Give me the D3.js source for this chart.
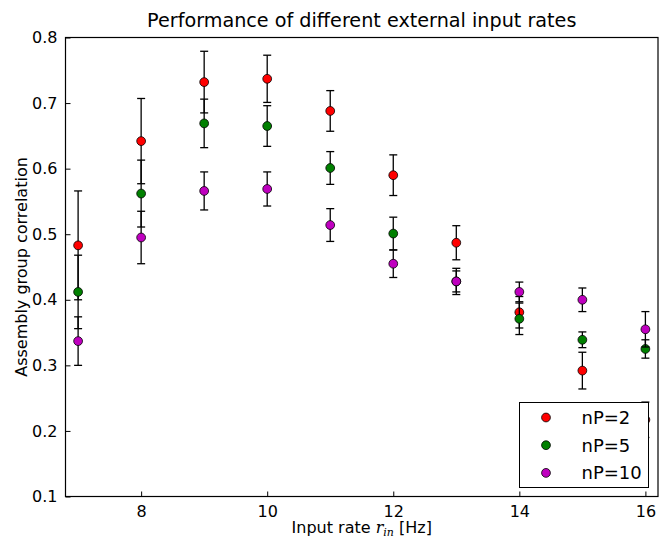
<!DOCTYPE html>
<html>
<head>
<meta charset="utf-8">
<script src="https://cdn.jsdelivr.net/npm/d3@7/dist/d3.min.js"></script>
<style>
  body { margin: 0; background: #fff; }
  svg { display: block; font-family: "DejaVu Sans", sans-serif; }
</style>
</head>
<body>
<main></main>
<script>
const rates = [7, 8, 9, 10, 11, 12, 13, 14, 15, 16];
const nP2 = [0.483, 0.642, 0.732, 0.737, 0.688, 0.590, 0.487, 0.381, 0.292, 0.217];
const nP2Err = [0.083, 0.065, 0.047, 0.036, 0.031, 0.031, 0.026, 0.024, 0.028, 0.027];
const nP5 = [0.412, 0.562, 0.669, 0.665, 0.601, 0.501, 0.428, 0.371, 0.339, 0.325];
const nP5Err = [0.056, 0.051, 0.037, 0.031, 0.025, 0.025, 0.016, 0.024, 0.012, 0.014];
const nP10 = [0.337, 0.495, 0.566, 0.569, 0.514, 0.455, 0.428, 0.412, 0.400, 0.355];
const nP10Err = [0.037, 0.040, 0.029, 0.026, 0.025, 0.021, 0.020, 0.015, 0.018, 0.027];
const seriesNames = ["nP=2", "nP=5", "nP=10"];
const xTicks = [8, 10, 12, 14, 16];
const yTicks = [0.1, 0.2, 0.3, 0.4, 0.5, 0.6, 0.7, 0.8];

const W = 659, H = 542;
const margin = { top: 37.5, right: 1, bottom: 45.5, left: 65.5 };
const width = W - margin.left - margin.right;
const height = H - margin.top - margin.bottom;
const colors = ["#ff0000", "#008000", "#bf00bf"];

const svg = d3.select("main").append("svg")
  .attr("width", W).attr("height", H);

const x = d3.scaleLinear().domain([6.8, 16.2]).range([margin.left, margin.left + width]);
const y = d3.scaleLinear().domain([0.1, 0.8]).range([margin.top + height, margin.top]);

const series = [
  { name: seriesNames[0], vals: nP2, err: nP2Err, color: colors[0] },
  { name: seriesNames[1], vals: nP5, err: nP5Err, color: colors[1] },
  { name: seriesNames[2], vals: nP10, err: nP10Err, color: colors[2] }
];

// axes (ticks inward, left + bottom only)
const xAxis = d3.axisBottom(x).tickValues(xTicks).tickSize(-5).tickPadding(9).tickFormat(d3.format("d"));
const yAxis = d3.axisLeft(y).tickValues(yTicks).tickSize(-5).tickPadding(8).tickFormat(d3.format(".1f"));

const gx = svg.append("g").attr("transform", `translate(0,${margin.top + height})`).call(xAxis);
const gy = svg.append("g").attr("transform", `translate(${margin.left},0)`).call(yAxis);
[gx, gy].forEach(g => {
  g.select(".domain").remove();
  g.selectAll(".tick line").attr("stroke", "#000").attr("stroke-width", 1);
  g.selectAll(".tick text").attr("fill", "#000").style("font-size", "16px").style("font-family", "DejaVu Sans");
});

// error bars and markers
const capW = 4;
series.forEach(s => {
  const g = svg.append("g");
  const pts = rates.map((r, i) => ({ r, v: s.vals[i], e: s.err[i] }));
  g.selectAll("line.bar").data(pts).enter().append("line")
    .attr("x1", d => x(d.r)).attr("x2", d => x(d.r))
    .attr("y1", d => y(d.v - d.e)).attr("y2", d => y(d.v + d.e))
    .attr("stroke", "#000").attr("stroke-width", 1.3);
  ["lo", "hi"].forEach(k => {
    g.selectAll("line.cap" + k).data(pts).enter().append("line")
      .attr("x1", d => x(d.r) - capW).attr("x2", d => x(d.r) + capW)
      .attr("y1", d => y(k === "lo" ? d.v - d.e : d.v + d.e))
      .attr("y2", d => y(k === "lo" ? d.v - d.e : d.v + d.e))
      .attr("stroke", "#000").attr("stroke-width", 1.3);
  });
  g.selectAll("circle").data(pts).enter().append("circle")
    .attr("cx", d => x(d.r)).attr("cy", d => y(d.v)).attr("r", 4.4)
    .attr("fill", s.color).attr("stroke", "#000").attr("stroke-width", 0.8);
});

// frame
svg.append("rect")
  .attr("x", margin.left).attr("y", margin.top)
  .attr("width", width).attr("height", height)
  .attr("fill", "none").attr("stroke", "#000").attr("stroke-width", 1.2);

// legend
const legend = svg.append("g").attr("transform", "translate(519.5,402.5)");
legend.append("rect").attr("width", 129).attr("height", 85)
  .attr("fill", "#fff").attr("stroke", "#000").attr("stroke-width", 1);
series.forEach((s, i) => {
  legend.append("circle").attr("cx", 26.5).attr("cy", 15 + i * 27.7).attr("r", 4.4)
    .attr("fill", s.color).attr("stroke", "#000").attr("stroke-width", 0.8);
  legend.append("text").attr("x", 62).attr("y", 15 + i * 27.7).attr("dy", "0.36em")
    .style("font-size", "18px").text(s.name);
});

// title
svg.append("text").attr("x", margin.left + width / 2).attr("y", 27)
  .attr("text-anchor", "middle").style("font-size", "19.2px")
  .text("Performance of different external input rates");

// x label
const xl = svg.append("text").attr("x", margin.left + width / 2).attr("y", 533)
  .attr("text-anchor", "middle").style("font-size", "16px");
xl.append("tspan").text("Input rate ");
xl.append("tspan").style("font-family", "DejaVu Serif").style("font-style", "italic").text("r");
xl.append("tspan").attr("dy", 3).style("font-family", "DejaVu Serif").style("font-style", "italic").style("font-size", "11px").text("in");
xl.append("tspan").attr("dy", -3).text(" [Hz]");

// y label
svg.append("text").attr("transform", `translate(27,${margin.top + height / 2}) rotate(-90)`)
  .attr("text-anchor", "middle").style("font-size", "16px")
  .text("Assembly group correlation");
</script>
</body>
</html>
